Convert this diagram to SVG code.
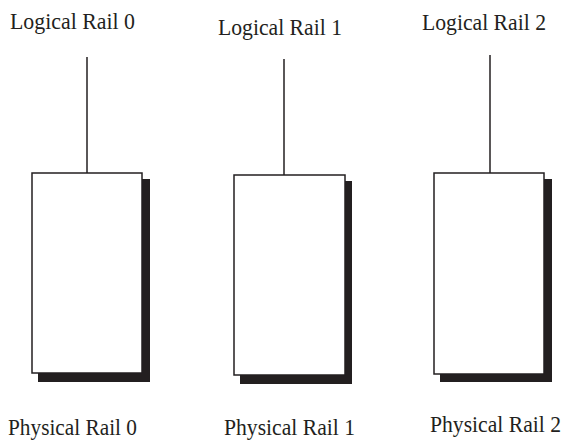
<svg xmlns="http://www.w3.org/2000/svg" width="584" height="440" viewBox="0 0 584 440">
<style>
.lbl{font-family:"Liberation Serif","Times New Roman",serif;font-size:23px;fill:#231f20}
.box{fill:#fff;stroke:#231f20;stroke-width:1.5}
.shadow{fill:#231f20}
.wire{stroke:#231f20;stroke-width:1.5;fill:none}
</style>
<rect width="584" height="440" fill="#fff"/>
<g id="connectors">
<line class="wire" x1="87" y1="57" x2="87" y2="173"/>
<line class="wire" x1="284" y1="59" x2="284" y2="175"/>
<line class="wire" x1="490" y1="55" x2="490" y2="173"/>
</g>
<g id="logical0"><text class="lbl" x="10" y="29" textLength="125" lengthAdjust="spacingAndGlyphs">Logical Rail 0</text></g>
<g id="logical1"><text class="lbl" x="218" y="35" textLength="124" lengthAdjust="spacingAndGlyphs">Logical Rail 1</text></g>
<g id="logical2"><text class="lbl" x="422" y="30" textLength="124" lengthAdjust="spacingAndGlyphs">Logical Rail 2</text></g>
<g id="physical0">
<rect class="shadow" x="38" y="179" width="112" height="203"/>
<rect class="box" x="32" y="173" width="110" height="200"/>
<text class="lbl" x="8" y="435" textLength="129" lengthAdjust="spacingAndGlyphs">Physical Rail 0</text>
</g>
<g id="physical1">
<rect class="shadow" x="240" y="181" width="112" height="203"/>
<rect class="box" x="234" y="175" width="111" height="200"/>
<text class="lbl" x="224" y="435" textLength="131" lengthAdjust="spacingAndGlyphs">Physical Rail 1</text>
</g>
<g id="physical2">
<rect class="shadow" x="440" y="179" width="112" height="203"/>
<rect class="box" x="434" y="173" width="110" height="201"/>
<text class="lbl" x="430" y="432" textLength="131" lengthAdjust="spacingAndGlyphs">Physical Rail 2</text>
</g>
</svg>
